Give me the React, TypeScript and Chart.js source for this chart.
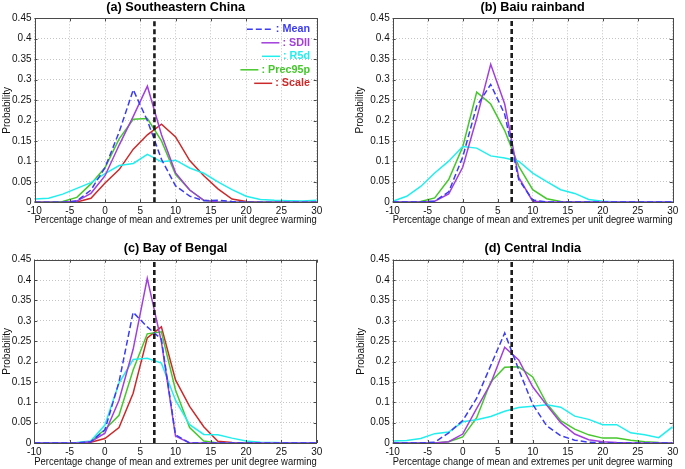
import React, { useEffect, useRef } from 'react';
import { Chart, registerables } from 'chart.js';

Chart.register(...registerables);

// ---------- data ----------
const xValues = [-10, -8, -6, -4, -2, 0, 2, 4, 6, 8, 10, 12, 14, 16, 18, 20, 22, 24, 26, 28, 30];
const xTickValues = [-10, -5, 0, 5, 10, 15, 20, 25, 30];
const xTickLabels = ['-10', '-5', '0', '5', '10', '15', '20', '25', '30'];
const yTickValues = [0, 0.05, 0.1, 0.15, 0.2, 0.25, 0.3, 0.35, 0.4, 0.45];
const yTickLabels = ['0', '0.05', '0.1', '0.15', '0.2', '0.25', '0.3', '0.35', '0.4', '0.45'];
const refLineX = 7;

const seriesNames = ['Mean', 'SDII', 'R5d', 'Prec95p', 'Scale'];
const seriesColors = ['#3c3cf2', '#a23fdc', '#22eeee', '#46c82c', '#cc2a2a'];

const panelTitles = ['(a) Southeastern China', '(b) Baiu rainband', '(c) Bay of Bengal', '(d) Central India'];
const xAxisTitle = 'Percentage change of mean and extremes per unit degree warming';
const yAxisTitle = 'Probability';

// (a) Southeastern China
const aMean = [0, 0, 0, 0.003, 0.03, 0.085, 0.172, 0.275, 0.2, 0.105, 0.04, 0.015, 0.004, 0.005, 0.002, 0, 0, 0, 0, 0, 0];
const aSDII = [0, 0, 0, 0.003, 0.022, 0.065, 0.14, 0.21, 0.284, 0.165, 0.072, 0.03, 0.005, 0.001, 0, 0, 0, 0, 0, 0, 0];
const aR5d = [0.008, 0.01, 0.02, 0.034, 0.048, 0.07, 0.09, 0.095, 0.117, 0.099, 0.103, 0.084, 0.071, 0.05, 0.031, 0.015, 0.007, 0.005, 0.004, 0.003, 0.005];
const aPrec95p = [0, 0, 0.002, 0.012, 0.045, 0.085, 0.155, 0.203, 0.205, 0.15, 0.068, 0.03, 0.005, 0.001, 0, 0, 0, 0, 0, 0, 0];
const aScale = [0, 0, 0, 0.001, 0.01, 0.047, 0.08, 0.13, 0.165, 0.191, 0.16, 0.102, 0.065, 0.033, 0.008, 0.002, 0, 0, 0, 0, 0];

// (b) Baiu rainband
const bMean = [0, 0, 0, 0.002, 0.025, 0.11, 0.235, 0.288, 0.215, 0.055, 0.005, 0, 0, 0, 0, 0, 0, 0, 0, 0, 0];
const bSDII = [0, 0, 0, 0.002, 0.02, 0.085, 0.205, 0.3375, 0.24, 0.06, 0.002, 0, 0, 0, 0, 0, 0, 0, 0, 0, 0];
const bR5d = [0.002, 0.014, 0.038, 0.071, 0.1, 0.136, 0.132, 0.113, 0.108, 0.1, 0.071, 0.05, 0.03, 0.021, 0.006, 0.002, 0, 0, 0, 0, 0];
const bPrec95p = [0, 0, 0.001, 0.01, 0.055, 0.135, 0.269, 0.24, 0.175, 0.088, 0.03, 0.008, 0.001, 0, 0, 0, 0, 0, 0, 0, 0];

// (c) Bay of Bengal
const cMean = [0, 0, 0, 0, 0.003, 0.032, 0.15, 0.321, 0.285, 0.255, 0.02, 0, 0, 0, 0, 0, 0, 0, 0, 0, 0];
const cSDII = [0, 0, 0, 0, 0.003, 0.024, 0.105, 0.23, 0.404, 0.249, 0.017, 0, 0, 0, 0, 0, 0, 0, 0, 0, 0];
const cR5d = [0, 0, 0, 0.001, 0.005, 0.044, 0.147, 0.205, 0.208, 0.196, 0.105, 0.045, 0.021, 0.02, 0.012, 0.005, 0.002, 0.001, 0, 0, 0];
const cPrec95p = [0, 0, 0, 0, 0.004, 0.033, 0.068, 0.179, 0.268, 0.273, 0.13, 0.038, 0.005, 0, 0, 0, 0, 0, 0, 0, 0];
const cScale = [0, 0, 0, 0, 0.002, 0.011, 0.038, 0.122, 0.258, 0.285, 0.155, 0.09, 0.04, 0.004, 0.001, 0, 0, 0, 0, 0, 0];

// (d) Central India
const dMean = [0, 0, 0, 0.002, 0.025, 0.055, 0.11, 0.19, 0.27, 0.18, 0.095, 0.042, 0.018, 0.007, 0.002, 0, 0, 0, 0, 0, 0];
const dSDII = [0, 0, 0, 0, 0.003, 0.022, 0.085, 0.146, 0.235, 0.204, 0.138, 0.093, 0.05, 0.022, 0.008, 0.003, 0.001, 0, 0, 0, 0];
const dR5d = [0.005, 0.006, 0.011, 0.023, 0.027, 0.052, 0.057, 0.065, 0.078, 0.087, 0.09, 0.094, 0.088, 0.066, 0.058, 0.045, 0.045, 0.025, 0.02, 0.013, 0.04];
const dPrec95p = [0, 0, 0, 0, 0.003, 0.015, 0.062, 0.15, 0.186, 0.187, 0.162, 0.097, 0.055, 0.034, 0.02, 0.012, 0.012, 0.007, 0.003, 0.001, 0];

// ---------- layout ----------
const FONT = '"Liberation Sans", Arial, Helvetica, sans-serif';

type PanelDef = {
  title: string;
  series: (number[] | null)[];
  legend: boolean;
  left: number; top: number; w: number; h: number;
  padL: number; padR: number; padT: number; padB: number;
  yW: number; xH: number;
};

const panels: PanelDef[] = [
  { title: panelTitles[0], series: [aMean, aSDII, aR5d, aPrec95p, aScale], legend: true,
    left: 0, top: 0, w: 342, h: 234, padL: 0.3, padR: 25.3, padT: 18.3, padB: 7.3, yW: 34.2, xH: 24.4 },
  { title: panelTitles[1], series: [bMean, bSDII, bR5d, bPrec95p, null], legend: false,
    left: 342, top: 0, w: 343, h: 234, padL: 11.7, padR: 12.3, padT: 18.3, padB: 7.3, yW: 39, xH: 24.7 },
  { title: panelTitles[2], series: [cMean, cSDII, cR5d, cPrec95p, cScale], legend: false,
    left: 0, top: 234, w: 342, h: 235, padL: 0.3, padR: 25.3, padT: 25.7, padB: 0.7, yW: 34, xH: 25.3 },
  { title: panelTitles[3], series: [dMean, dSDII, dR5d, dPrec95p, null], legend: false,
    left: 342, top: 234, w: 343, h: 235, padL: 12.7, padR: 12.3, padT: 25.7, padB: 0.7, yW: 38, xH: 25.3 },
];

function makeDecor(p: PanelDef) {
  return {
    id: 'decor',
    afterDraw(chart: any) {
      const { ctx, chartArea: a } = chart;
      const xs = chart.scales.x;
      const ys = chart.scales.y;
      ctx.save();
      ctx.setLineDash([]);
      ctx.strokeStyle = '#4a4a4a';
      ctx.lineWidth = 1;
      ctx.strokeRect(Math.round(a.left) + 0.5, Math.round(a.top) + 0.5, Math.round(a.right - a.left), Math.round(a.bottom - a.top));
      ctx.beginPath();
      xTickValues.forEach((v) => {
        const px = Math.round(xs.getPixelForValue(v)) + 0.5;
        ctx.moveTo(px, a.bottom); ctx.lineTo(px, a.bottom - 3);
        ctx.moveTo(px, a.top); ctx.lineTo(px, a.top + 3);
      });
      yTickValues.forEach((v) => {
        const py = Math.round(ys.getPixelForValue(v)) + 0.5;
        ctx.moveTo(a.left, py); ctx.lineTo(a.left + 3, py);
        ctx.moveTo(a.right, py); ctx.lineTo(a.right - 3, py);
      });
      ctx.stroke();

      ctx.fillStyle = '#000';
      ctx.font = 'bold 12.7px ' + FONT;
      ctx.textAlign = 'center';
      ctx.textBaseline = 'middle';
      ctx.fillText(p.title, (a.left + a.right) / 2, a.top - 11);

      if (p.legend) {
        ctx.font = 'bold 10.8px ' + FONT;
        ctx.textAlign = 'right';
        const textRight = a.right - 6.7;
        seriesNames.forEach((name, i) => {
          const y = a.top + 11 + i * 13.5;
          const label = ': ' + name;
          ctx.fillStyle = seriesColors[i];
          ctx.fillText(label, textRight, y);
          const tw = ctx.measureText(label).width;
          const lineEnd = textRight - tw - 3;
          const len = i === 0 ? 26 : 18;
          ctx.strokeStyle = seriesColors[i];
          ctx.lineWidth = 1.5;
          ctx.setLineDash(i === 0 ? [6, 3] : []);
          ctx.beginPath();
          ctx.moveTo(lineEnd - len, y);
          ctx.lineTo(lineEnd, y);
          ctx.stroke();
        });
      }
      ctx.restore();
    },
  };
}

function buildConfig(p: PanelDef): any {
  const datasets: any[] = [
    {
      label: 'ref',
      data: [{ x: refLineX, y: 0 }, { x: refLineX, y: 0.45 }],
      borderColor: '#1c1c1c',
      borderWidth: 2.6,
      borderDash: [5, 3],
      pointRadius: 0,
    },
  ];
  p.series.forEach((s, i) => {
    if (!s) return;
    datasets.push({
      label: seriesNames[i],
      data: xValues.map((x, k) => ({ x, y: s[k] })),
      borderColor: seriesColors[i],
      borderWidth: 1.5,
      borderDash: i === 0 ? [6, 3] : [],
      pointRadius: 0,
      tension: 0,
    });
  });

  return {
    type: 'line',
    data: { datasets },
    options: {
      responsive: false,
      animation: false,
      events: [],
      layout: { padding: { left: p.padL, right: p.padR, top: p.padT, bottom: p.padB } },
      plugins: { legend: { display: false }, tooltip: { enabled: false }, title: { display: false } },
      scales: {
        x: {
          type: 'linear',
          min: -10,
          max: 30,
          afterBuildTicks: (s: any) => { s.ticks = xTickValues.map((v) => ({ value: v })); },
          afterFit: (s: any) => { s.height = p.xH; },
          ticks: {
            autoSkip: false,
            maxRotation: 0,
            padding: 3,
            color: '#111',
            font: { family: FONT, size: 10 },
            callback: (v: number) => {
              const i = xTickValues.indexOf(v);
              return i >= 0 ? xTickLabels[i] : '';
            },
          },
          grid: { color: '#c4c4c4', drawTicks: false, lineWidth: 1 },
          border: { display: false, dash: [1, 2] },
          title: { display: true, text: xAxisTitle, color: '#111', padding: { top: 0, bottom: 0 }, font: { family: FONT, size: 10 } },
        },
        y: {
          type: 'linear',
          min: 0,
          max: 0.45,
          afterBuildTicks: (s: any) => { s.ticks = yTickValues.map((v) => ({ value: v })); },
          afterFit: (s: any) => { s.width = p.yW; },
          ticks: {
            autoSkip: false,
            padding: 3,
            color: '#111',
            font: { family: FONT, size: 10 },
            callback: (v: number) => {
              const i = yTickValues.findIndex((t) => Math.abs(t - v) < 1e-9);
              return i >= 0 ? yTickLabels[i] : '';
            },
          },
          grid: { color: '#c4c4c4', drawTicks: false, lineWidth: 1 },
          border: { display: false, dash: [1, 2] },
          title: { display: true, text: yAxisTitle, color: '#111', padding: { top: 1, bottom: 0 }, font: { family: FONT, size: 10 } },
        },
      },
    },
    plugins: [makeDecor(p)],
  };
}

function Panel({ p }: { p: PanelDef }) {
  const ref = useRef<HTMLCanvasElement>(null);
  useEffect(() => {
    if (!ref.current) return;
    const chart = new Chart(ref.current, buildConfig(p));
    return () => chart.destroy();
  }, [p]);
  return (
    <canvas
      ref={ref}
      width={p.w}
      height={p.h}
      style={{ position: 'absolute', left: p.left, top: p.top, width: p.w, height: p.h }}
    />
  );
}

export default function App() {
  return (
    <div style={{ position: 'absolute', left: 0, top: 0, width: 685, height: 469, background: '#fff', overflow: 'hidden' }}>
      {panels.map((p, i) => (
        <Panel key={i} p={p} />
      ))}
    </div>
  );
}
